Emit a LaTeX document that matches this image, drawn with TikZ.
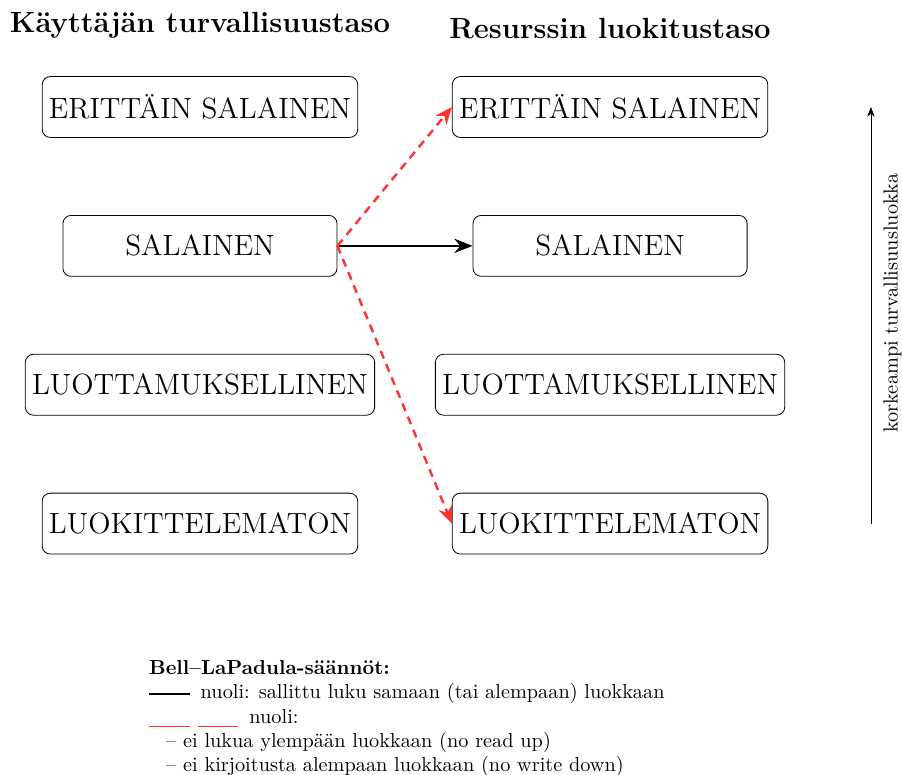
\documentclass[tikz,border=0pt]{standalone}
\usetikzlibrary{positioning}
\usetikzlibrary{arrows.meta}

\definecolor{deniedred}{RGB}{255,51,51}

\tikzset{
    level/.style={draw, rounded corners, font=\Large, minimum width=135pt, minimum height=30pt},
    coltitle/.style={font=\Large\bfseries},
    allowed/.style={-{Stealth[length=9pt, width=7pt]}, very thick},
    denied/.style={-{Stealth[length=8.5pt, width=7pt]}, very thick, dash pattern=on 4pt off 3pt, deniedred},
    legendtext/.style={align=left, inner sep=0pt},
}

\begin{document}
\begin{tikzpicture}
    \useasboundingbox (-98.5pt,52.7pt) rectangle (345.8pt,-328.6pt);

    % kayttajan tasot
    \node[level] (u1) at (0,0) {ERITTÄIN SALAINEN};
    \node[level, below=38pt of u1] (u2) {SALAINEN};
    \node[level, below=38pt of u2] (u3) {LUOTTAMUKSELLINEN};
    \node[level, below=38pt of u3] (u4) {LUOKITTELEMATON};

    % resurssin tasot
    \node[level] (r1) at ([xshift=202pt]u1) {ERITTÄIN SALAINEN};
    \node[level] (r2) at ([xshift=202pt]u2) {SALAINEN};
    \node[level] (r3) at ([xshift=202pt]u3) {LUOTTAMUKSELLINEN};
    \node[level] (r4) at ([xshift=202pt]u4) {LUOKITTELEMATON};

    \node[coltitle, above=15pt of u1] (tu) {Käyttäjän turvallisuustaso};
    \node[coltitle, above=15pt of r1] (tr) {Resurssin luokitustaso};

    \draw[allowed] (u2.east) -- (r2.west);
    \draw[denied] (u2.east) -- (r1.west);
    \draw[denied] (u2.east) -- (r4.west);

    % taso-akseli
    \coordinate (axbot) at ([xshift=128.5pt]r4);
    \coordinate (axtop) at ([xshift=128.5pt]r1);
    \draw[-Stealth] (axbot) -- (axtop) node[pos=0.53, sloped, below, inner sep=6pt] (axlabel) {korkeampi turvallisuusluokka};

    \node[legendtext, below right=52pt and 52.7pt of u4.south west] (legend) {%
        \textbf{Bell--LaPadula-säännöt:}\\
        \rule[2pt]{20pt}{1pt}\hspace{5.4pt}nuoli: sallittu luku samaan (tai alempaan) luokkaan\\
        \textcolor{deniedred}{\rule[-2pt]{20pt}{0.5pt}\hspace{4pt}\rule[-2pt]{20pt}{0.5pt}}\hspace{5.4pt}nuoli:\\
        \hspace*{8.4pt}-- ei lukua ylempään luokkaan (no read up)\\
        \hspace*{8.4pt}-- ei kirjoitusta alempaan luokkaan (no write down)};
\end{tikzpicture}
\end{document}
